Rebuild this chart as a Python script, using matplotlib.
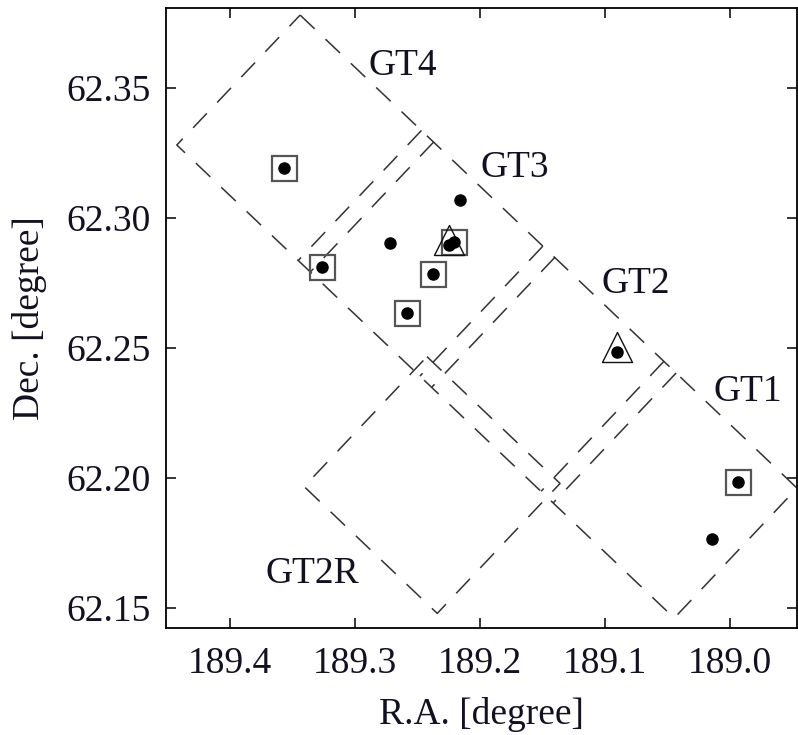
import numpy as np
import matplotlib
matplotlib.use("Agg")
import matplotlib.pyplot as plt
from matplotlib.path import Path

plt.rcParams['font.family'] = ['Liberation Serif', 'DejaVu Serif']
plt.rcParams['lines.scale_dashes'] = False

# ---- field pointings (centres, degrees) ----
strip_names = ["GT4", "GT3", "GT2", "GT1"]
strip_ra = [189.3394, 189.2424, 189.1453, 189.0485]
strip_dec = [62.3287, 62.2843, 62.2398, 62.1955]
gt2r_ra = 189.238
gt2r_dec = 62.1973
field_len = 0.0696   # long side (deg on sky)
field_wid = 0.0678   # short side (deg on sky)
pa_long = 225.5      # position angle of long axis (deg)
pa_short = 137.5     # position angle of short axis (deg)

# ---- field labels ----
label_text = ["GT4", "GT3", "GT2", "GT1", "GT2R"]
label_ra = [189.2892, 189.1996, 189.1022, 189.0132, 189.3716]
label_dec = [62.3550, 62.3158, 62.2712, 62.2297, 62.1596]

# ---- sources ----
src_ra = [189.3564, 189.2156, 189.2716, 189.2244, 189.2204, 189.3262,
          189.2372, 189.2582, 189.0902, 188.9930, 189.0140]
src_dec = [62.3192, 62.3069, 62.2905, 62.2896, 62.2906, 62.2813,
           62.2785, 62.2633, 62.2486, 62.1986, 62.1765]
sq_ra = [189.3564, 189.2204, 189.3262, 189.2372, 189.2582, 188.9930]
sq_dec = [62.3192, 62.2906, 62.2813, 62.2785, 62.2633, 62.1986]
tri_ra = [189.2244, 189.0902]
tri_dec = [62.2896, 62.2486]

xticks = [189.4, 189.3, 189.2, 189.1, 189.0]
yticks = [62.15, 62.20, 62.25, 62.30, 62.35]


def half_vectors(dec0):
    c = np.cos(np.radians(dec0))
    el = np.array([np.sin(np.radians(pa_long)) * field_len / 2 / c,
                   np.cos(np.radians(pa_long)) * field_len / 2])
    es = np.array([np.sin(np.radians(pa_short)) * field_wid / 2 / c,
                   np.cos(np.radians(pa_short)) * field_wid / 2])
    return el, es


fig = plt.figure(figsize=(7.98, 7.35), dpi=100)
ax = fig.add_axes([166 / 798, 1 - 628 / 735, 631 / 798, 620 / 735])

dash = dict(color='#333333', lw=1.1, ls=(0, (14.4, 10.8)), zorder=2)

# strip outline
centres = [np.array([r, d]) for r, d in zip(strip_ra, strip_dec)]
el4, es4 = half_vectors(strip_dec[0])
el1, es1 = half_vectors(strip_dec[-1])
c4, c1 = centres[0], centres[-1]
outline = np.array([c4 - el4 - es4, c1 + el1 - es1, c1 + el1 + es1,
                    c4 - el4 + es4, c4 - el4 - es4])
ax.plot(outline[:, 0], outline[:, 1], **dash)

# internal edges of each pointing
for i, c in enumerate(centres):
    el, es = half_vectors(strip_dec[i])
    if i > 0:
        seg = np.array([c - el - es, c - el + es])
        ax.plot(seg[:, 0], seg[:, 1], **dash)
    if i < len(centres) - 1:
        seg = np.array([c + el - es, c + el + es])
        ax.plot(seg[:, 0], seg[:, 1], **dash)

# GT2R field
cr = np.array([gt2r_ra, gt2r_dec])
el, es = half_vectors(gt2r_dec)
box = np.array([cr - el - es, cr + el - es, cr + el + es, cr - el + es, cr - el - es])
ax.plot(box[:, 0], box[:, 1], **dash)

# markers
tri_path = Path([(0, 1), (-0.75, -0.5), (0.75, -0.5), (0, 1)],
                [Path.MOVETO, Path.LINETO, Path.LINETO, Path.CLOSEPOLY])
ax.plot(sq_ra, sq_dec, ls='none', marker='s', ms=18, mfc='none',
        mec='#555555', mew=1.6, zorder=3)
ax.plot(tri_ra, tri_dec, ls='none', marker=tri_path, ms=28.8, mfc='none',
        mec='#111111', mew=1.0, zorder=3)
ax.plot(src_ra, src_dec, ls='none', marker='o', ms=8, color='black', zorder=4)

for t, r, d in zip(label_text, label_ra, label_dec):
    ax.text(r, d, t, fontsize=27, ha='left', va='baseline', color='#111122')

ax.set_xlim(189.4508, 188.9462)
ax.set_ylim(62.1423, 62.3808)
ax.set_xticks(xticks)
ax.set_xticklabels([f"{v:.1f}" for v in xticks])
ax.set_yticks(yticks)
ax.set_yticklabels([f"{v:.2f}" for v in yticks])
ax.tick_params(direction='in', top=True, right=True, length=7, width=1.1,
               labelsize=27, colors='black', labelcolor='#111122')
ax.tick_params(axis='x', pad=13)
ax.tick_params(axis='y', pad=11)
for s in ax.spines.values():
    s.set_linewidth(1.3)

ax.set_xlabel("R.A. [degree]", fontsize=27, labelpad=12, color='#111122')
ax.set_ylabel("Dec. [degree]", fontsize=27, labelpad=14, color='#111122')

fig.savefig("out.png", dpi=100)
